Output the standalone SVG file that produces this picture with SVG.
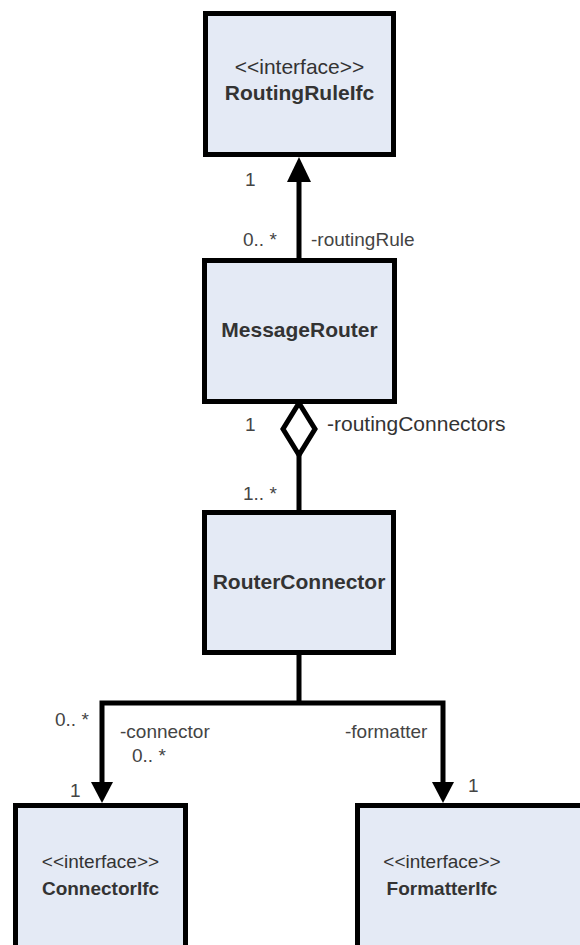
<svg xmlns="http://www.w3.org/2000/svg" width="580" height="945" viewBox="0 0 580 945">
<style>
.box{fill:#E4EAF5;stroke:#000;stroke-width:5}
.ln{fill:none;stroke:#000;stroke-width:5}
text{font-family:"Liberation Sans",Arial,sans-serif;fill:#333}
.b{font-weight:bold;text-anchor:middle}
.s{text-anchor:middle}
.lb{font-size:19px;fill:#444}
</style>
<defs>
<marker id="arr" markerWidth="24" markerHeight="22" refX="23" refY="12" orient="auto" markerUnits="userSpaceOnUse" viewBox="0 0 24 24">
<path d="M0,0 L24,12 L0,24 Z" fill="#000"/>
</marker>
</defs>
<g id="connectors">
<line class="ln" x1="299" y1="258" x2="299" y2="180"/>
<path d="M287,182 L299,157 L311,182 Z" fill="#000"/>
<line class="ln" x1="299" y1="455" x2="299" y2="510"/>
<path d="M299,403 L315,429 L299,455 L283,429 Z" fill="#fff" stroke="#000" stroke-width="5"/>
<path class="ln" d="M299,655 V703 M102,782 V703 H443 V782"/>
<path d="M91,782 L102,803 L113,782 Z" fill="#000"/>
<path d="M432,782 L443,803 L454,782 Z" fill="#000"/>
<text class="lb" x="245" y="186">1</text>
<text class="lb" x="243" y="246">0.. *</text>
<text class="lb" x="311" y="246">-routingRule</text>
<text class="lb" x="245" y="431">1</text>
<text x="327" y="431" font-size="21" fill="#444">-routingConnectors</text>
<text class="lb" x="243" y="500">1.. *</text>
<text class="lb" x="55" y="726">0.. *</text>
<text class="lb" x="120" y="738">-connector</text>
<text class="lb" x="132" y="762">0.. *</text>
<text class="lb" x="70" y="797">1</text>
<text class="lb" x="345" y="738">-formatter</text>
<text class="lb" x="468" y="792">1</text>
</g>
<g id="RoutingRuleIfc">
<rect class="box" x="205.5" y="13.5" width="188" height="141"/>
<text class="s" x="299.5" y="74" font-size="21">&lt;&lt;interface&gt;&gt;</text>
<text class="b" x="299.5" y="100" font-size="21">RoutingRuleIfc</text>
</g>
<g id="MessageRouter">
<rect class="box" x="204.5" y="260.5" width="190" height="141"/>
<text class="b" x="299.5" y="337" font-size="21">MessageRouter</text>
</g>
<g id="RouterConnector">
<rect class="box" x="204.5" y="512.5" width="189" height="140"/>
<text class="b" x="299" y="589" font-size="21">RouterConnector</text>
</g>
<g id="ConnectorIfc">
<rect class="box" x="15.5" y="805.5" width="170" height="200"/>
<text class="s" x="100.5" y="868" font-size="19">&lt;&lt;interface&gt;&gt;</text>
<text class="b" x="100.5" y="895" font-size="19">ConnectorIfc</text>
</g>
<g id="FormatterIfc">
<rect class="box" x="357.5" y="805.5" width="300" height="200"/>
<text class="s" x="442" y="868" font-size="19">&lt;&lt;interface&gt;&gt;</text>
<text class="b" x="442" y="895" font-size="19">FormatterIfc</text>
</g>
</svg>
